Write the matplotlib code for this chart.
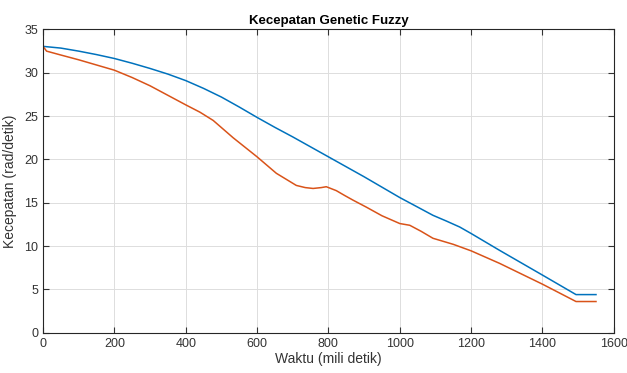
import matplotlib
matplotlib.use("Agg")
import matplotlib.pyplot as plt

plt.rcParams['font.family'] = ['Liberation Sans', 'DejaVu Sans']

# genetic fuzzy speed response
t_blue = [0, 50, 100, 150, 200, 250, 300, 350, 400, 450, 500, 550, 600, 650, 700, 750, 800,
          850, 900, 950, 1000, 1050, 1093, 1130, 1168, 1200, 1280, 1400, 1494, 1550]
v_blue = [33.05, 32.85, 32.5, 32.1, 31.65, 31.1, 30.5, 29.85, 29.1, 28.2, 27.2, 26.05, 24.85,
          23.7, 22.6, 21.45, 20.3, 19.15, 18.0, 16.8, 15.6, 14.5, 13.55, 12.9, 12.2, 11.45,
          9.5, 6.65, 4.4, 4.4]

t_orange = [0, 10, 50, 100, 150, 200, 250, 300, 350, 400, 440, 477, 533, 600, 654, 710,
            735, 757, 780, 794, 822, 845, 869, 906, 950, 1000, 1028, 1060, 1093, 1150,
            1200, 1280, 1400, 1494, 1550]
v_orange = [33.05, 32.5, 32.05, 31.5, 30.9, 30.3, 29.45, 28.5, 27.4, 26.3, 25.45, 24.5, 22.5,
            20.3, 18.4, 17.0, 16.75, 16.65, 16.75, 16.85, 16.4, 15.85, 15.3, 14.5, 13.5, 12.6,
            12.4, 11.7, 10.9, 10.2, 9.45, 8.0, 5.6, 3.6, 3.6]

x_ticks = [0, 200, 400, 600, 800, 1000, 1200, 1400, 1600]
y_ticks = [0, 5, 10, 15, 20, 25, 30, 35]

fig = plt.figure(figsize=(6.27, 3.73), dpi=100)
ax = fig.add_axes([0.0686, 0.108, 0.9104, 0.813])

ax.plot(t_blue, v_blue, color='#0072BD', linewidth=1.1)
ax.plot(t_orange, v_orange, color='#D95319', linewidth=1.1)

ax.set_xlim(0, 1600)
ax.set_ylim(0, 35)
ax.set_xticks(x_ticks)
ax.set_yticks(y_ticks)
ax.grid(True, color='#dddddd', linewidth=0.7)
ax.set_axisbelow(True)
ax.tick_params(direction='in', top=True, right=True, labelsize=9, colors='#333333', length=4)
for s in ax.spines.values():
    s.set_color('#262626')
    s.set_linewidth(0.8)

ax.set_title('Kecepatan Genetic Fuzzy', fontsize=9.5, fontweight='bold', pad=4)
ax.set_xlabel('Waktu (mili detik)', fontsize=10, color='#333333', labelpad=2)
ax.set_ylabel('Kecepatan (rad/detik)', fontsize=10, color='#333333', labelpad=5)

fig.savefig('out.png', dpi=100)
